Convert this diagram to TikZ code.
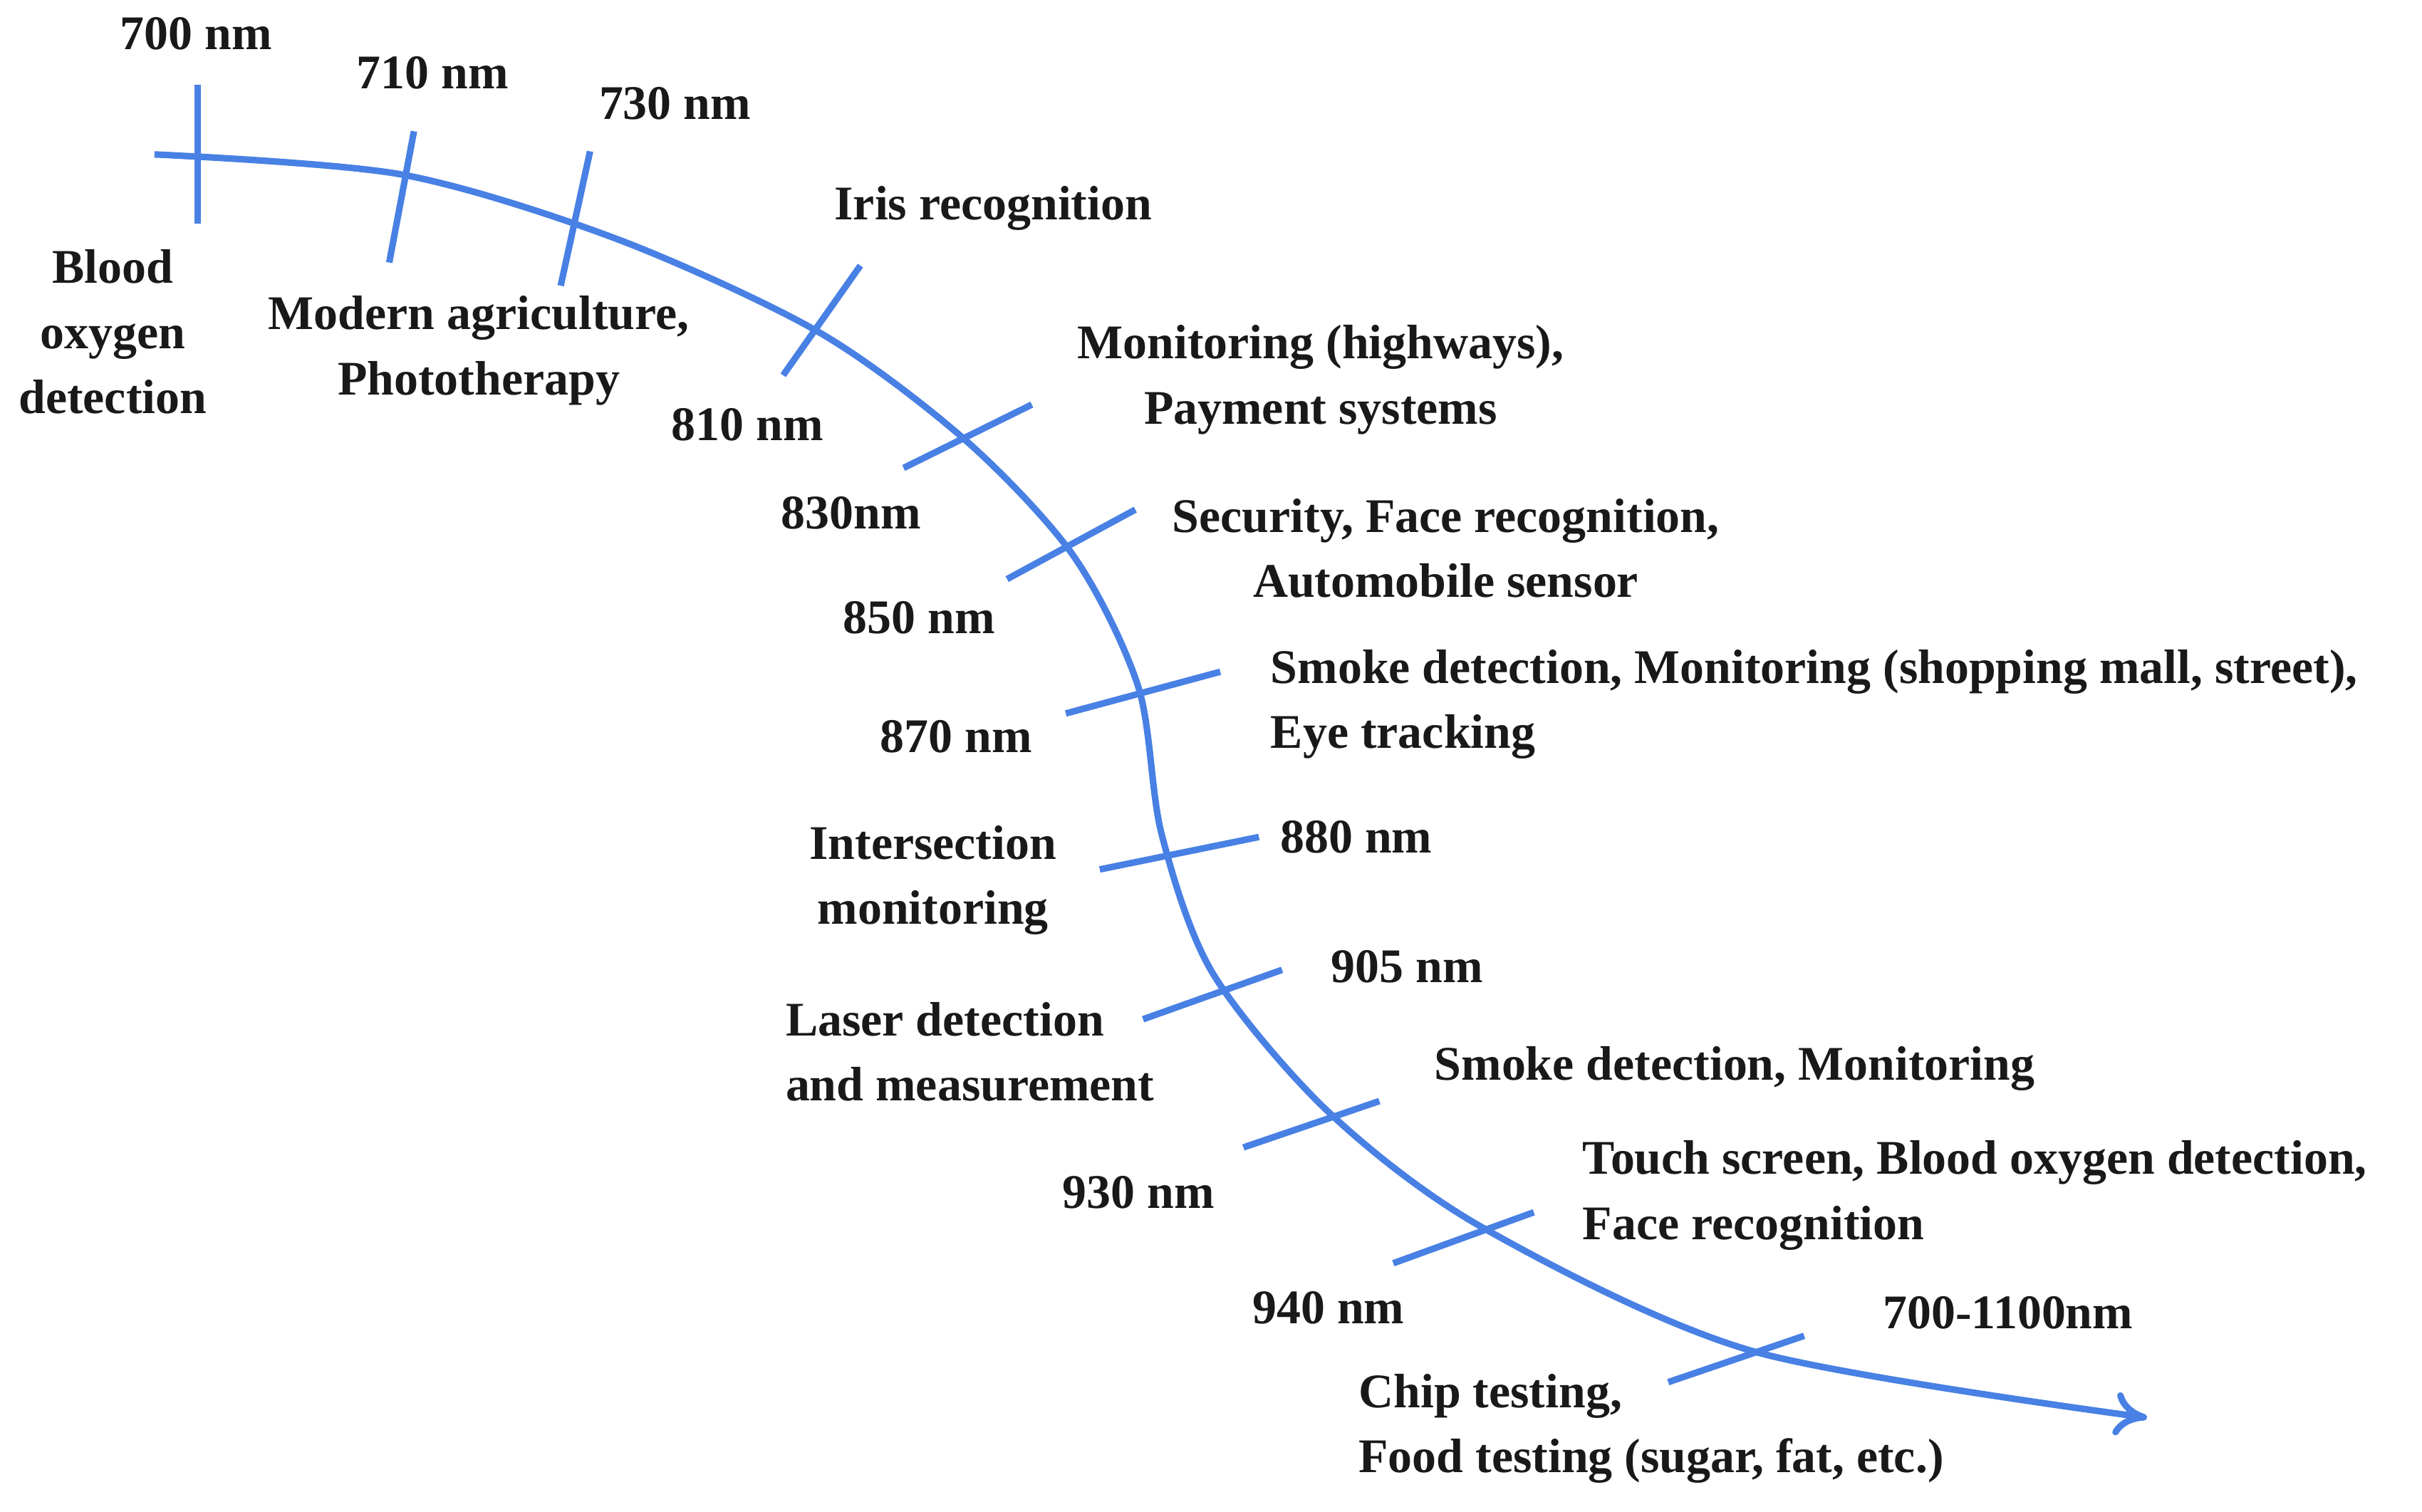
\documentclass[tikz,border=0pt]{standalone}
\usepackage{fontspec}
\setmainfont{Liberation Serif}
\usetikzlibrary{arrows.meta}
\definecolor{cblue}{RGB}{72,128,228}
\begin{document}
\begin{tikzpicture}[x=0.01cm,y=-0.01cm,
  curve/.style={cblue,line width=1.2pt},
  tick/.style={cblue,line width=1.2pt},
  lab/.style={font=\fontsize{8.9}{12}\selectfont\bfseries,text=black!90,inner sep=0pt},
  labl/.style={lab,align=left},
  labc/.style={lab,align=center}]
\useasboundingbox (0,0) rectangle (1568,979);
\draw[curve,-{To[length=6pt,width=8pt]}] plot[smooth,tension=0.5] coordinates
 {(100,100) (260,113) (400,155) (530,215) (625,285) (695,360) (737,445) (752,540) (785,630) (860,720) (960,795) (1135,875) (1390,918)};
\draw[tick] (128,55)--(128,145);
\draw[tick] (268,85)--(252,170);
\draw[tick] (382,98)--(363,185);
\draw[tick] (557,172)--(507,243);
\draw[tick] (668,262)--(585,303);
\draw[tick] (735,330)--(652,375);
\draw[tick] (790,435)--(690,462);
\draw[tick] (815,542)--(712,563);
\draw[tick] (830,628)--(740,660);
\draw[tick] (893,713)--(805,743);
\draw[tick] (993,785)--(902,818);
\draw[tick] (1168,865)--(1080,895);
\node[lab] (n700) at (127,22) {700 nm};
\node[lab] (n710) at (280,47) {710 nm};
\node[lab] (n730) at (437,67) {730 nm};
\node[labc] (a1) at (73,215) {Blood\\oxygen\\detection};
\node[labc] (a2) at (310,227) {Modern agriculture,\\Phototherapy};
\node[lab] (a3) at (643,135) {Iris recognition};
\node[lab] (n810) at (484,275) {810 nm};
\node[labc] (a4) at (855,246) {Monitoring (highways),\\Payment systems};
\node[lab] (n830) at (551,332) {830nm};
\node[labc] (a5) at (936,355) {Security, Face recognition,\\Automobile sensor};
\node[lab] (n850) at (595,400) {850 nm};
\node[labl,anchor=west] (a6) at (822,456) {Smoke detection, Monitoring (shopping mall, street),\\Eye tracking};
\node[lab] (n870) at (619,477) {870 nm};
\node[labc] (a7) at (604,570) {Intersection\\monitoring};
\node[lab] (n880) at (878,542) {880 nm};
\node[lab] (n905) at (911,626) {905 nm};
\node[labl,anchor=west] (a8) at (508,681) {Laser detection\\and measurement};
\node[lab] (a9) at (1123,692) {Smoke detection, Monitoring};
\node[lab] (n930) at (737,772) {930 nm};
\node[labl,anchor=west] (a10) at (1024,774) {Touch screen, Blood oxygen detection,\\Face recognition};
\node[lab] (n940) at (860,847) {940 nm};
\node[lab] (n1100) at (1300,850) {700-1100nm};
\node[labl,anchor=west] (a11) at (879,925) {Chip testing,\\Food testing (sugar, fat, etc.)};
\end{tikzpicture}
\end{document}
